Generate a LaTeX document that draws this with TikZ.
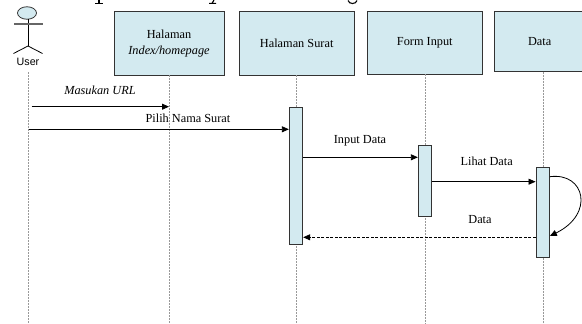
\documentclass[tikz,border=0pt]{standalone}
\usepackage{fontspec}
\setmainfont{Liberation Serif}
\newfontfamily\usersans{Liberation Sans}
\usetikzlibrary{arrows.meta,shapes.geometric}
\definecolor{boxfill}{HTML}{D3EAF0}
\definecolor{boxline}{HTML}{333333}
\tikzset{
  objbox/.style={draw=boxline, line width=0.9pt, fill=boxfill, inner sep=0pt, align=center, font=\fontsize{12.3}{15.5}\selectfont},
  actbar/.style={draw=boxline, line width=0.9pt, fill=boxfill, inner sep=0pt, minimum width=13.4pt},
  lifeline/.style={draw=gray!80, line width=0.8pt, dash pattern=on 2pt off 1pt},
  msg/.style={draw=black, line width=0.8pt, -{Triangle[length=7pt,width=6pt]}},
  retmsg/.style={msg, dash pattern=on 3pt off 1.5pt},
  lbl/.style={font=\fontsize{12.3}{14}\selectfont, inner sep=0pt},
  frag/.style={draw=black, line width=1.1pt}
}
\begin{document}
\begin{tikzpicture}[x=1pt,y=-1pt]
\useasboundingbox (0,0) rectangle (582,324);
% cut-off title fragments
\draw[frag] (99,0) -- (99,3.2) (95,3.4) -- (103,3.4);
\draw[frag] (214,0) -- (212,3.4) (209,3.4) -- (216,3.4);
\draw[frag] (348,0.5) .. controls (349,4.5) and (356,4.5) .. (357,0.5);
% actor
\node[draw=boxline, line width=0.8pt, fill=boxfill, ellipse, minimum width=19pt, minimum height=12.5pt, inner sep=0pt] (head) at (27,13) {};
\coordinate (neck) at (28,19.3);
\coordinate (hip) at (28,46);
\draw[line width=0.8pt] (neck) -- (hip);
\draw[draw=gray!80!black, line width=1.6pt] (14,24) -- (42.7,24);
\draw[line width=0.8pt] (13.5,53.5) -- (hip) -- (42.5,53.5);
\node[font=\usersans\fontsize{10.7}{12}\selectfont, inner sep=0pt] (user) at (28,62) {User};
% object boxes
\node[objbox, minimum width=110pt, minimum height=63.3pt] (idx) at (169,43.3) {Halaman\\\textit{Index/homepage}};
\node[objbox, minimum width=114.7pt, minimum height=63.3pt] (srt) at (296.7,43.3) {Halaman Surat};
\node[objbox, minimum width=115pt, minimum height=62.3pt] (frm) at (424.8,42.9) {Form Input};
\node[objbox, minimum width=90.7pt, minimum height=60pt] (dat) at (539.7,41.7) {Data};
% lifelines
\coordinate (uTop) at (28.7,72);   \coordinate (uBot) at (28.7,324);
\coordinate (iTop) at (169,75);    \coordinate (iBot) at (169,324);
\coordinate (sTop) at (296,75);    \coordinate (sBot) at (296,324);
\coordinate (fTop) at (425,74);    \coordinate (fBot) at (425,324);
\coordinate (dTop) at (543.3,71.7);\coordinate (dBot) at (543.3,324);
\draw[lifeline] (uTop) -- (uBot);
\draw[lifeline] (iTop) -- (iBot);
\draw[lifeline] (sTop) -- (sBot);
\draw[lifeline] (fTop) -- (fBot);
\draw[lifeline] (dTop) -- (dBot);
% activation bars
\node[actbar, minimum height=136.7pt] (barS) at (296,175.7) {};
\node[actbar, minimum height=71pt] (barF) at (425,180.5) {};
\node[actbar, minimum height=89.7pt] (barD) at (542.7,212.2) {};
% messages
\coordinate (m1s) at (31.7,106.7);
\coordinate (m1e) at (169,106.7);
\draw[msg] (m1s) -- (m1e);
\node[lbl, font=\itshape\fontsize{12.3}{14}\selectfont] (l1) at (100,90) {Masukan URL};
\coordinate (m2s) at (28.7,129.3);
\draw[msg] (m2s) -- (m2s -| barS.west);
\node[lbl] (l2) at (188,118.3) {Pilih Nama Surat};
\coordinate (m3y) at (0,157.3);
\draw[msg] (barS.east |- m3y) -- (barF.west |- m3y);
\node[lbl] (l3) at (360,141) {Input Data};
\coordinate (m4y) at (0,181.7);
\draw[msg] (barF.east |- m4y) -- (barD.west |- m4y);
\node[lbl] (l4) at (486.7,161.7) {Lihat Data};
\coordinate (m5y) at (0,237.3);
\draw[retmsg] (barD.west |- m5y) -- (barS.east |- m5y);
\node[lbl] (l5) at (480,219.3) {Data};
% self message
\coordinate (s1) at (0,176.7);
\coordinate (s2) at (0,236);
\draw[msg] (barD.east |- s1) .. controls (585,172) and (595,214) .. (barD.east |- s2);
\end{tikzpicture}
\end{document}
